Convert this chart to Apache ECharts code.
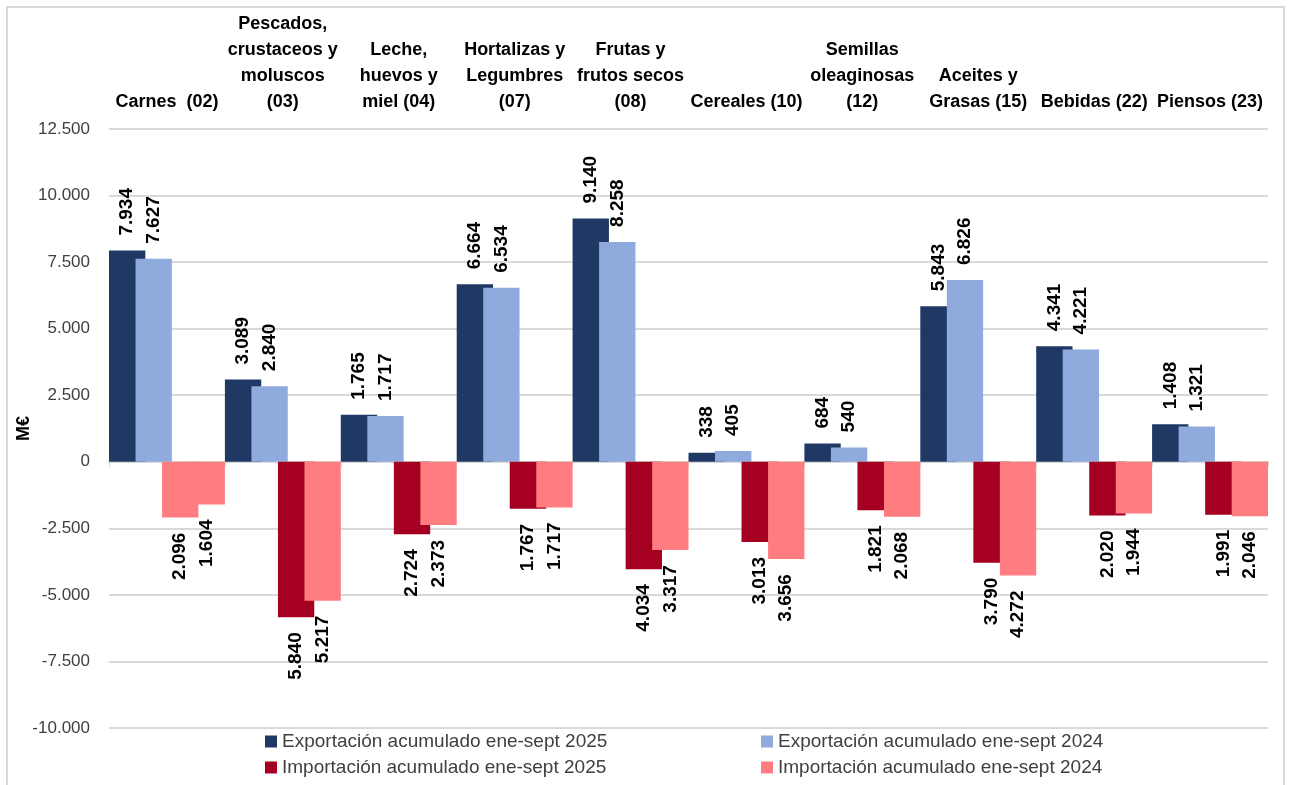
<!DOCTYPE html>
<html>
<head>
<meta charset="utf-8">
<script src="https://cdn.jsdelivr.net/npm/echarts@6/dist/echarts.min.js"></script>
<style>
  html, body { margin: 0; padding: 0; background: #fff; }
  #chart { width: 1290px; height: 785px; }
</style>
</head>
<body>
<div id="chart"></div>
<script>
// categorías (capítulos arancelarios)
const categories = [
  'Carnes  (02)',
  'Pescados,\ncrustaceos y\nmoluscos\n(03)',
  'Leche,\nhuevos y\nmiel (04)',
  'Hortalizas y\nLegumbres\n(07)',
  'Frutas y\nfrutos secos\n(08)',
  'Cereales (10)',
  'Semillas\noleaginosas\n(12)',
  'Aceites y\nGrasas (15)',
  'Bebidas (22)',
  'Piensos (23)'
]
// valores en M€
const export2025 = [7934, 3089, 1765, 6664, 9140, 338, 684, 5843, 4341, 1408]
const export2024 = [7627, 2840, 1717, 6534, 8258, 405, 540, 6826, 4221, 1321]
const import2025 = [2096, 5840, 2724, 1767, 4034, 3013, 1821, 3790, 2020, 1991]
const import2024 = [1604, 5217, 2373, 1717, 3317, 3656, 2068, 4272, 1944, 2046]

const seriesNames = [
  'Exportación acumulado ene-sept 2025',
  'Exportación acumulado ene-sept 2024',
  'Importación acumulado ene-sept 2025',
  'Importación acumulado ene-sept 2024'
]
const colors = ['#203864', '#8faadc', '#a50021', '#ff7c80']
const FONT = '"Liberation Sans", Arial, sans-serif'

// formato español: separador de miles con punto
function fmt (v) {
  const s = String(Math.abs(Math.round(v))).replace(/\B(?=(\d{3})+(?!\d))/g, '.')
  return v < 0 ? '-' + s : s
}

const labelBase = {
  show: true,
  rotate: 90,
  distance: 15,
  verticalAlign: 'middle',
  color: '#000',
  fontFamily: FONT,
  fontWeight: 'bold',
  fontSize: 19,
  formatter: p => fmt(Math.abs(p.value))
}

function barSeries (idx, values, negative) {
  return {
    name: seriesNames[idx],
    type: 'bar',
    barCategoryGap: 0,
    barGap: '-27%',
    data: values.map((v, i) => {
      const item = { value: negative ? -v : v }
      // en el original la barra de Carnes 2025 (importación) aparece en rosa
      if (idx === 2 && i === 0) item.itemStyle = { color: colors[3] }
      return item
    }),
    itemStyle: { color: colors[idx] },
    label: Object.assign({}, labelBase, negative
      ? { position: 'bottom', align: 'right' }
      : { position: 'top', align: 'left' })
  }
}

const myChart = echarts.init(document.getElementById('chart'))
const legendText = { color: '#404040', fontFamily: FONT, fontSize: 19, lineHeight: 19 }
const option = {
  animation: false,
  grid: { left: 109, right: 22, top: 129, bottom: 57, containLabel: false },
  legend: [
    {
      data: [seriesNames[0], seriesNames[2]],
      orient: 'vertical', left: 260, top: 727,
      itemWidth: 12, itemHeight: 12, itemGap: 7,
      icon: 'rect', textStyle: legendText
    },
    {
      data: [seriesNames[1], seriesNames[3]],
      orient: 'vertical', left: 756, top: 727,
      itemWidth: 12, itemHeight: 12, itemGap: 7,
      icon: 'rect', textStyle: legendText
    }
  ],
  xAxis: [
    {
      type: 'category',
      data: categories,
      axisLine: { onZero: true, lineStyle: { color: '#d9d9d9', width: 2 } },
      axisTick: { show: true, length: 5, lineStyle: { color: '#d9d9d9' } },
      axisLabel: { show: false }
    },
    {
      type: 'category',
      position: 'top',
      data: categories,
      axisLine: { show: false },
      axisTick: { show: false },
      axisLabel: {
        interval: 0,
        margin: 14,
        color: '#000',
        fontFamily: FONT,
        fontWeight: 'bold',
        fontSize: 18,
        lineHeight: 26
      }
    }
  ],
  yAxis: {
    type: 'value',
    min: -10000,
    max: 12500,
    interval: 2500,
    name: 'M€',
    nameLocation: 'middle',
    nameGap: 76,
    nameMoveOverlap: false,
    nameTextStyle: { color: '#000', fontFamily: FONT, fontWeight: 'bold', fontSize: 18 },
    axisLine: { show: false },
    axisTick: { show: false },
    axisLabel: { margin: 19, color: '#404040', fontFamily: FONT, fontSize: 17, formatter: v => fmt(v) },
    splitLine: { lineStyle: { color: '#d9d9d9', width: 2 } }
  },
  graphic: [
    {
      type: 'rect',
      shape: { x: 7, y: 7, width: 1277, height: 800 },
      style: { fill: 'none', stroke: '#d9d9d9', lineWidth: 2 },
      silent: true
    }
  ],
  series: [
    barSeries(0, export2025, false),
    barSeries(1, export2024, false),
    barSeries(2, import2025, true),
    barSeries(3, import2024, true)
  ]
}
myChart.setOption(option)
</script>
</body>
</html>
